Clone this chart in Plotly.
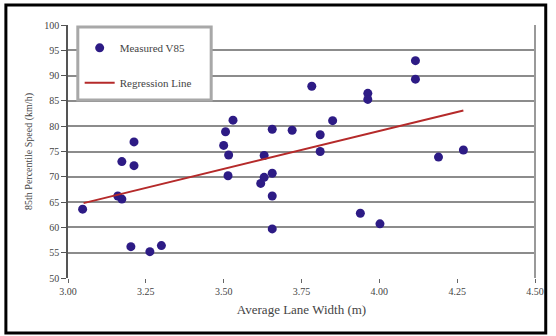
import plotly.graph_objects as go

lane_width = [3.047, 3.16, 3.173, 3.173, 3.212, 3.212, 3.202, 3.263, 3.30,
              3.50, 3.506, 3.516, 3.514, 3.53, 3.619, 3.63, 3.63, 3.656, 3.656,
              3.656, 3.656, 3.72, 3.783, 3.81, 3.81, 3.85, 3.939, 3.963, 3.963,
              4.002, 4.116, 4.116, 4.19, 4.27]
speed_85 = [63.6, 66.2, 65.6, 73.0, 76.9, 72.2, 56.2, 55.2, 56.4,
            76.2, 78.9, 74.3, 70.2, 81.2, 68.7, 69.9, 74.2, 70.7, 66.2,
            59.7, 79.4, 79.2, 87.9, 78.3, 75.0, 81.1, 62.8, 86.5, 85.3,
            60.7, 92.95, 89.3, 73.9, 75.3]
reg_x = [3.05, 4.27]
reg_y = [64.8, 83.1]

x_ticks = [3.00, 3.25, 3.50, 3.75, 4.00, 4.25, 4.50]
x_tick_labels = ["3.00", "3.25", "3.50", "3.75", "4.00", "4.25", "4.50"]
y_ticks = [50, 55, 60, 65, 70, 75, 80, 85, 90, 95, 100]

font_fam = "Liberation Serif, Times New Roman, serif"

fig = go.Figure()
fig.add_trace(go.Scatter(
    x=lane_width, y=speed_85, mode="markers", name="Measured V85",
    legendgroup="a",
    marker=dict(color="#2d1b85", size=9, line=dict(width=0)),
))
fig.add_trace(go.Scatter(
    x=reg_x, y=reg_y, mode="lines", name="Regression Line",
    legendgroup="b",
    line=dict(color="#b52a2a", width=2),
))

fig.update_layout(
    width=556, height=336,
    margin=dict(l=68, r=15, t=25, b=58),
    paper_bgcolor="white", plot_bgcolor="white",
    font=dict(family=font_fam, size=10, color="#444"),
    showlegend=True,
    legend=dict(
        x=0.025, y=0.967, xanchor="left", yanchor="top",
        bgcolor="rgba(0,0,0,0)", borderwidth=0,
        font=dict(family=font_fam, size=11, color="#444"),
        tracegroupgap=16, traceorder="grouped", itemwidth=30,
    ),
    xaxis=dict(
        range=[3.0, 4.5], tickvals=x_ticks, ticktext=x_tick_labels,
        showgrid=False, zeroline=False,
        showline=False, ticks="outside", ticklen=4, tickcolor="#666",
        title=dict(text="Average Lane Width (m)", font=dict(size=13, color="#444"), standoff=8),
    ),
    yaxis=dict(
        range=[50, 100], tickvals=y_ticks,
        showgrid=True, gridcolor="#8c8c8c", gridwidth=2,
        zeroline=False, showline=True, linecolor="#555", linewidth=1.5,
        ticks="outside", ticklen=5, tickcolor="#555",
        title=dict(text="85th Percentile Speed (km/h)", font=dict(size=10, color="#444"), standoff=10),
    ),
    shapes=[
        dict(type="line", xref="paper", yref="paper", x0=1, x1=1, y0=0, y1=1,
             line=dict(color="#999", width=2)),
        dict(type="rect", xref="paper", yref="paper", x0=0.021, x1=0.3066,
             y0=0.7036, y1=0.992, fillcolor="white",
             line=dict(color="#a8a8a8", width=3), layer="above"),
        dict(type="rect", xref="paper", yref="paper", x0=-0.133, x1=1.023,
             y0=-0.217, y1=1.079, fillcolor="rgba(0,0,0,0)",
             line=dict(color="black", width=3)),
    ],
)

fig.write_html("out.html", config={"displayModeBar": False},
               post_script="document.body.style.margin='0';document.body.style.overflow='hidden';")
